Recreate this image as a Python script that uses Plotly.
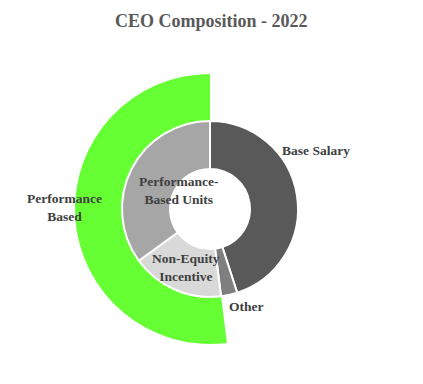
import plotly.graph_objects as go

# Data
inner_labels = ["Base Salary", "Other", "Non-Equity Incentive", "Performance-Based Units"]
inner_values = [45, 3, 17, 35]
inner_colors = ["#595959", "#7f7f7f", "#d9d9d9", "#a6a6a6"]

outer_labels = ["Fixed", "Performance Based"]
outer_values = [48, 52]
outer_colors = ["rgba(0,0,0,0)", "#66ff33"]

title_text = "CEO Composition - 2022"

OFF = 8  # page body margin
W, H = 423 - OFF, 384 - OFF
cx, cy = 210 - OFF, 209 - OFF  # pie centre in figure pixels
R_out, R_in, R_hole = 135, 88, 40


def dom(r):
    return dict(
        x=[(cx - r) / W, (cx + r) / W],
        y=[(H - cy - r) / H, (H - cy + r) / H],
    )


fig = go.Figure()
fig.add_trace(go.Pie(
    labels=outer_labels, values=outer_values, sort=False, direction="clockwise",
    rotation=0, hole=R_in / R_out, domain=dom(R_out),
    marker=dict(colors=outer_colors, line=dict(width=0)),
    textinfo="none", hoverinfo="skip", showlegend=False,
))
fig.add_trace(go.Pie(
    labels=inner_labels, values=inner_values, sort=False, direction="clockwise",
    rotation=0, hole=R_hole / R_in, domain=dom(R_in),
    marker=dict(colors=inner_colors, line=dict(color="white", width=2)),
    textinfo="none", hoverinfo="skip", showlegend=False,
))

SERIF = "Times New Roman, Liberation Serif, DejaVu Serif, serif"
font = dict(family=SERIF, size=13.5, color="#404040")
# label positions (reference pixels)
label_pos = {
    "Base Salary": (316, 150),
    "Other": (246, 306),
    "Non-Equity Incentive": (186, 267),
    "Performance-Based Units": (178, 190),
    "Performance Based": (64, 207),
}
label_text = {
    "Base Salary": "<b>Base Salary</b>",
    "Other": "<b>Other</b>",
    "Non-Equity Incentive": "<b>Non-Equity<br>Incentive</b>",
    "Performance-Based Units": "<b>Performance-<br>Based Units</b>",
    "Performance Based": "<b>Performance<br>Based</b>",
}
for name in inner_labels + [outer_labels[1]]:
    px, py = label_pos[name]
    fig.add_annotation(
        x=(px - OFF) / W, y=1 - (py - OFF) / H, xref="paper", yref="paper",
        text=label_text[name], showarrow=False, font=font,
        xanchor="center", yanchor="middle", align="center",
    )

fig.add_annotation(
    x=(211 - OFF) / W, y=1 - (21 - OFF) / H, xref="paper", yref="paper",
    text="<b>" + title_text + "</b>", showarrow=False,
    font=dict(family=SERIF, size=18, color="#595959"),
    xanchor="center", yanchor="middle",
)

fig.update_layout(
    width=W, height=H, margin=dict(l=0, r=0, t=0, b=0),
    paper_bgcolor="white", plot_bgcolor="white",
    font=dict(family=SERIF),
)
fig.write_html("out.html", config={"displayModeBar": False})
